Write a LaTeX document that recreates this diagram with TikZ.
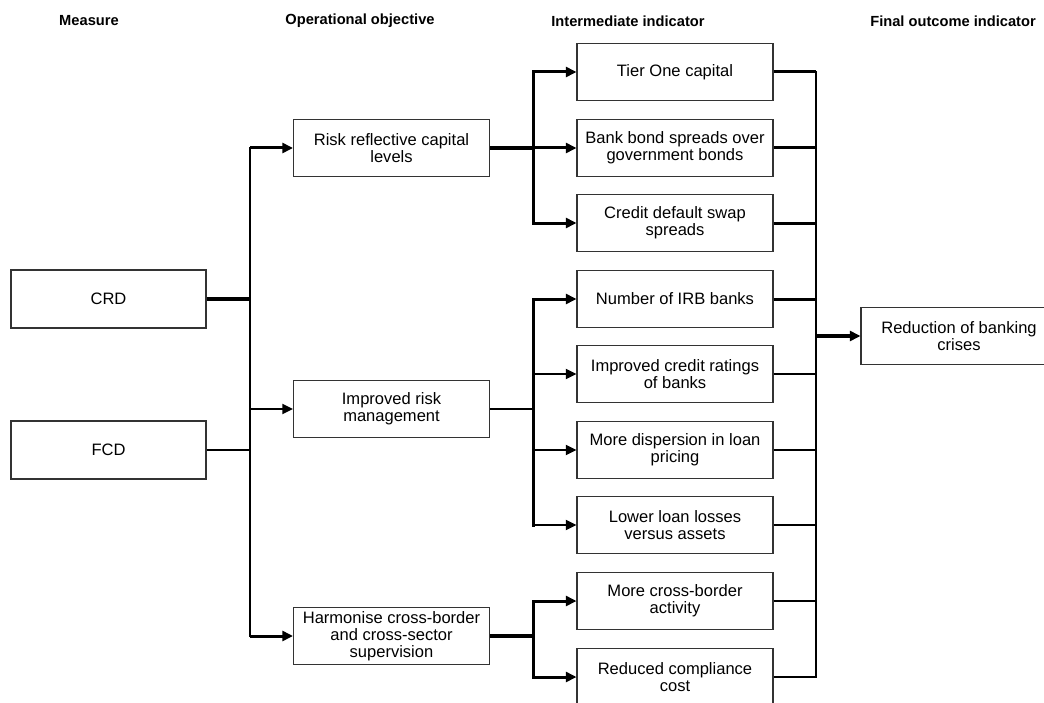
\documentclass[tikz,border=0pt]{standalone}
\usepackage{fontspec}
\setmainfont{Liberation Sans}
\usetikzlibrary{arrows.meta}
\begin{document}
\begin{tikzpicture}[x=0.75pt,y=-0.75pt,
  box/.style={draw=black!80, line width=0.8pt, minimum width=147pt, minimum height=42.75pt,
    align=center, inner sep=1pt, font=\fontsize{12.4}{12.6}\selectfont},
  head/.style={font=\fontsize{11}{12}\selectfont\bfseries},
  thinline/.style={line width=1.5pt},
  thickline/.style={line width=2.25pt},
  heavyline/.style={line width=3pt},
  tip/.style={-{Triangle[length=8pt,width=7.5pt]}},
  railline/.style={line width=1.8pt, line cap=rect},
]
\useasboundingbox (0,0) rectangle (1044,702);

% column headings
\node[head] (h1) at (89,21)  {Measure};
\node[head] (h2) at (360,21) {Operational objective};
\node[head] (h3) at (628,21) {Intermediate indicator};
\node[head] (h4) at (953,21) {Final outcome indicator};

% measures
\node[box, minimum width=146.25pt, minimum height=43.5pt] (crd) at (108.5,299) {CRD};
\node[box, minimum width=146.25pt, minimum height=43.5pt] (fcd) at (108.5,450) {FCD};

% operational objectives
\node[box] (risk) at (391.5,148) {Risk reflective capital\\levels};
\node[box] (irm)  at (391.5,409) {Improved risk\\management};
\node[box] (harm) at (391.5,636) {Harmonise cross-border\\and cross-sector\\supervision};

% intermediate indicators
\node[box] (tier) at (675,72)  {Tier One capital};
\node[box] (bank) at (675,148) {Bank bond spreads over\\government bonds};
\node[box] (cds)  at (675,223) {Credit default swap\\spreads};
\node[box] (irb)  at (675,299) {Number of IRB banks};
\node[box] (icr)  at (675,374) {Improved credit ratings\\of banks};
\node[box] (disp) at (675,450) {More dispersion in loan\\pricing};
\node[box] (loss) at (675,525) {Lower loan losses\\versus assets};
\node[box] (xb)   at (675,601) {More cross-border\\activity};
\node[box] (comp) at (675,677) {Reduced compliance\\cost};

% final outcome
\node[box] (final) at (959,336) {Reduction of banking\\crises};

% rails
\coordinate (tk) at (250,0);
\coordinate (br) at (533,0);
\coordinate (cl) at (816,0);

% measures into the trunk
\draw[heavyline] (crd.east) -- (crd.east -| tk);
\draw[thinline] (fcd.east) -- (fcd.east -| tk);
\draw[railline] (risk.west -| tk) -- (harm.west -| tk);
\draw[thickline,tip] (risk.west -| tk) -- (risk.west);
\draw[thinline,tip] (irm.west -| tk) -- (irm.west);
\draw[thickline,tip] (harm.west -| tk) -- (harm.west);

% capital branch
\draw[heavyline] (risk.east) -- (risk.east -| br);
\draw[thickline, line cap=rect] (tier.west -| br) -- (cds.west -| br);
\draw[thickline,tip] (tier.west -| br) -- (tier.west);
\draw[thickline,tip] (bank.west -| br) -- (bank.west);
\draw[thickline,tip] (cds.west -| br) -- (cds.west);

% risk management branch
\draw[thinline] (irm.east) -- (irm.east -| br);
\draw[thickline, line cap=rect] (irb.west -| br) -- (loss.west -| br);
\draw[thickline,tip] (irb.west -| br) -- (irb.west);
\draw[thinline,tip] (icr.west -| br) -- (icr.west);
\draw[thinline,tip] (disp.west -| br) -- (disp.west);
\draw[thinline,tip] (loss.west -| br) -- (loss.west);

% supervision branch
\draw[heavyline] (harm.east) -- (harm.east -| br);
\draw[thickline, line cap=rect] (xb.west -| br) -- (comp.west -| br);
\draw[thickline,tip] (xb.west -| br) -- (xb.west);
\draw[thickline,tip] (comp.west -| br) -- (comp.west);

% collector towards the final outcome
\draw[railline] (tier.east -| cl) -- (comp.east -| cl);
\draw[thickline] (tier.east) -- (tier.east -| cl);
\draw[thickline] (bank.east) -- (bank.east -| cl);
\draw[thickline] (cds.east) -- (cds.east -| cl);
\draw[thickline] (irb.east) -- (irb.east -| cl);
\draw[thinline] (icr.east) -- (icr.east -| cl);
\draw[thinline] (disp.east) -- (disp.east -| cl);
\draw[thinline] (loss.east) -- (loss.east -| cl);
\draw[thinline] (xb.east) -- (xb.east -| cl);
\draw[thinline] (comp.east) -- (comp.east -| cl);
\draw[heavyline,tip] (final.west -| cl) -- (final.west);
\end{tikzpicture}
\end{document}
